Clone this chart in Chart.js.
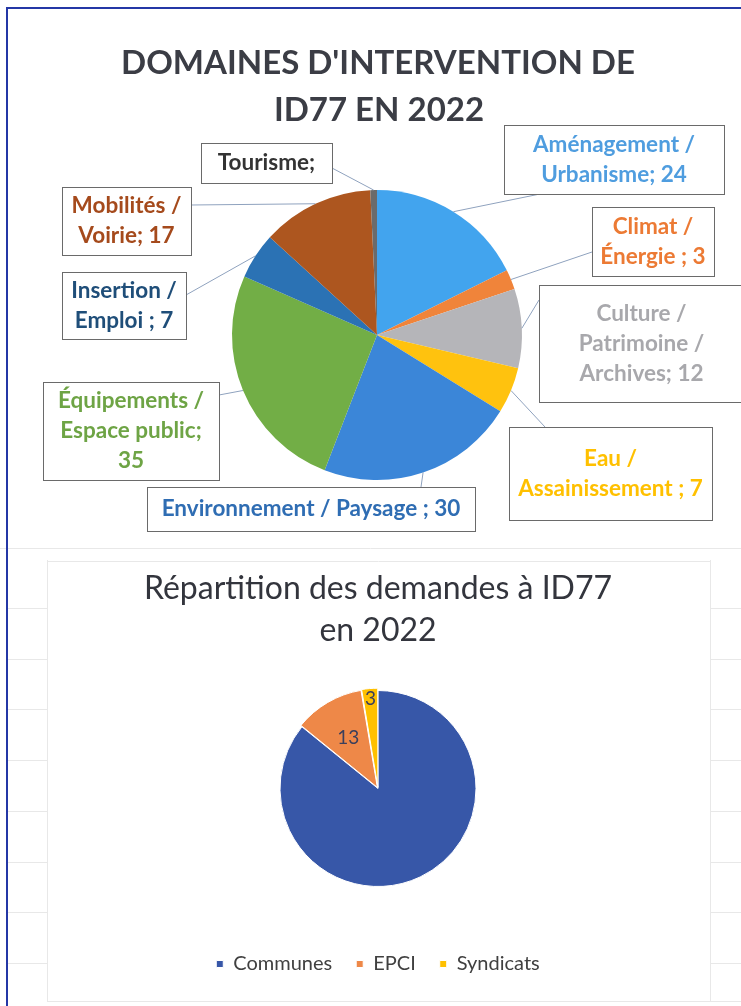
<!DOCTYPE html>
<html lang="fr">
<head>
<meta charset="utf-8">
<title>Domaines d'intervention de ID77 en 2022</title>
<script src="https://cdn.jsdelivr.net/npm/chart.js@4.4.1/dist/chart.umd.min.js"></script>
<style>
  html, body { margin: 0; padding: 0; background: #fff; }
  body { width: 741px; height: 1006px; position: relative; overflow: hidden; }
  #zoneDomaines { position: absolute; left: 0; top: 0; }
  #zoneDemandes { position: absolute; left: 0; top: 540px; }
  .cadre { position: absolute; left: 6px; top: 7px; width: 760px; height: 1020px;
           border-left: 2px solid #2437a6; border-top: 2px solid #2437a6; pointer-events: none; }
</style>
</head>
<body>
<canvas id="zoneDomaines" width="741" height="545"></canvas>
<canvas id="zoneDemandes" width="741" height="466"></canvas>
<div class="cadre"></div>
<script>
// Données - graphique 1 (domaines d'intervention)
const domaines = ['Aménagement / Urbanisme', 'Climat / Énergie', 'Culture / Patrimoine / Archives',
  'Eau / Assainissement', 'Environnement / Paysage', 'Équipements / Espace public',
  'Insertion / Emploi', 'Mobilités / Voirie', 'Tourisme'];
const valeursDomaines = [24, 3, 12, 7, 30, 35, 7, 17, 1];
const couleursDomaines = ['#42a4ee', '#f0843a', '#b5b5b9', '#ffc20e', '#3b86d8', '#72ae46', '#2b72b4', '#ad561f', '#6b6b6b'];
const couleursEtiquettes = ['#4f9ddf', '#ec7a34', '#a8a8ac', '#ffc000', '#2f6db3', '#6ea445', '#1f4e79', '#a54a1c', '#333333'];
// texte des étiquettes ({v} = valeur)
const lignesEtiquettes = [
  ['Aménagement /', 'Urbanisme; {v}'],
  ['Climat /', 'Énergie ; {v}'],
  ['Culture /', 'Patrimoine /', 'Archives; {v}'],
  ['Eau /', 'Assainissement ; {v}'],
  ['Environnement / Paysage ; {v}'],
  ['Équipements /', 'Espace public;', '{v}'],
  ['Insertion /', 'Emploi ; {v}'],
  ['Mobilités /', 'Voirie; {v}'],
  ['Tourisme;']
];

// Données - graphique 2 (répartition des demandes)
const categoriesDemandes = ['Communes', 'EPCI', 'Syndicats'];
const valeursDemandes = [97, 13, 3];
const couleursDemandes = ['#3757a8', '#ee8848', '#ffc000'];
const valeurVisible = [false, true, true];

const titre1 = ["DOMAINES D'INTERVENTION DE", 'ID77 EN 2022'];
const titre2 = ['Répartition des demandes à ID77', 'en 2022'];

Chart.defaults.font.family = 'Lato, "Open Sans", sans-serif';

// boîtes des étiquettes + point d'accroche du trait
const boites = [
  {x: 504, y: 125, w: 220, h: 69, ax: 540, ay: 194},
  {x: 592, y: 207, w: 122, h: 69, ax: 592, ay: 252},
  {x: 539, y: 285, w: 205, h: 117, ax: 539, ay: 300},
  {x: 509, y: 427, w: 203, h: 93, ax: 545, ay: 427},
  {x: 147, y: 487, w: 328, h: 44, ax: 421, ay: 487},
  {x: 43, y: 382, w: 176, h: 98, ax: 219, ay: 395},
  {x: 62, y: 272, w: 124, h: 67, ax: 186, ay: 295},
  {x: 62, y: 187, w: 129, h: 68, ax: 191, ay: 205},
  {x: 201, y: 143, w: 131, h: 40, ax: 332, ay: 168}
];

const etiquettesDomaines = {
  id: 'etiquettesDomaines',
  afterDatasetsDraw(chart) {
    const ctx = chart.ctx;
    const arcs = chart.getDatasetMeta(0).data;
    ctx.save();
    // traits de rappel
    ctx.strokeStyle = '#8fa2be';
    ctx.lineWidth = 1;
    arcs.forEach((arc, i) => {
      const p = arc.getProps(['x', 'y', 'startAngle', 'endAngle', 'outerRadius'], true);
      const milieu = (p.startAngle + p.endAngle) / 2;
      const b = boites[i];
      ctx.beginPath();
      ctx.moveTo(p.x + Math.cos(milieu) * p.outerRadius, p.y + Math.sin(milieu) * p.outerRadius);
      ctx.lineTo(b.ax, b.ay);
      ctx.stroke();
    });
    // boîtes + texte
    ctx.textAlign = 'center';
    ctx.textBaseline = 'middle';
    ctx.font = 'bold 22.5px Lato';
    arcs.forEach((arc, i) => {
      const b = boites[i];
      ctx.fillStyle = '#fff';
      ctx.fillRect(b.x, b.y, b.w, b.h);
      ctx.strokeStyle = '#6a6a6a';
      ctx.strokeRect(b.x + 0.5, b.y + 0.5, b.w, b.h);
      const lignes = lignesEtiquettes[i].map(l => l.replace('{v}', valeursDomaines[i]));
      ctx.fillStyle = couleursEtiquettes[i];
      lignes.forEach((l, k) => {
        ctx.fillText(l, b.x + b.w / 2, b.y + b.h / 2 + (k - (lignes.length - 1) / 2) * 30);
      });
    });
    // titre
    ctx.fillStyle = '#3b3d45';
    ctx.font = 'bold 33px Lato';
    ctx.fillText(titre1[0], 378, 63);
    ctx.fillText(titre1[1], 379, 110);
    ctx.restore();
  }
};

new Chart(document.getElementById('zoneDomaines'), {
  type: 'pie',
  data: {
    labels: domaines,
    datasets: [{
      data: valeursDomaines,
      backgroundColor: couleursDomaines,
      borderWidth: 0,
      radius: 145
    }]
  },
  options: {
    responsive: false,
    animation: false,
    layout: { padding: { left: 232, right: 219, top: 190, bottom: 65 } },
    plugins: { legend: { display: false }, tooltip: { enabled: false } }
  },
  plugins: [etiquettesDomaines]
});

// fond façon tableur + titre + valeurs du graphique 2
const habillageDemandes = {
  id: 'habillageDemandes',
  beforeDraw(chart) {
    const ctx = chart.ctx;
    ctx.save();
    ctx.strokeStyle = '#e8e8e8';
    ctx.lineWidth = 1;
    ctx.beginPath();
    ctx.moveTo(0, 8.5); ctx.lineTo(741, 8.5);
    ctx.moveTo(47.5, 20); ctx.lineTo(47.5, 462);
    ctx.moveTo(710.5, 20); ctx.lineTo(710.5, 462);
    ctx.moveTo(47, 21.5); ctx.lineTo(710, 21.5);
    ctx.moveTo(47, 461.5); ctx.lineTo(741, 461.5);
    for (let y = 68; y < 460; y += 50.7) {
      ctx.moveTo(8, Math.round(y) + 0.5); ctx.lineTo(47, Math.round(y) + 0.5);
      ctx.moveTo(710, Math.round(y) + 0.5); ctx.lineTo(741, Math.round(y) + 0.5);
    }
    ctx.stroke();
    ctx.restore();
  },
  afterDatasetsDraw(chart) {
    const ctx = chart.ctx;
    const arcs = chart.getDatasetMeta(0).data;
    const position = [0.6, 0.6, 0.92];
    ctx.save();
    ctx.textAlign = 'center';
    ctx.textBaseline = 'middle';
    ctx.font = '19px Lato';
    ctx.fillStyle = '#3a3f5c';
    arcs.forEach((arc, i) => {
      if (!valeurVisible[i]) return;
      const p = arc.getProps(['x', 'y', 'startAngle', 'endAngle', 'outerRadius'], true);
      const milieu = (p.startAngle + p.endAngle) / 2;
      ctx.fillText(String(valeursDemandes[i]),
        p.x + Math.cos(milieu) * p.outerRadius * position[i],
        p.y + Math.sin(milieu) * p.outerRadius * position[i]);
    });
    ctx.fillStyle = '#33353d';
    ctx.font = '32px Lato';
    ctx.fillText(titre2[0], 378, 49);
    ctx.fillText(titre2[1], 378, 91);
    ctx.restore();
  }
};

new Chart(document.getElementById('zoneDemandes'), {
  type: 'pie',
  data: {
    labels: categoriesDemandes,
    datasets: [{
      data: valeursDemandes,
      backgroundColor: couleursDemandes,
      borderColor: '#ffffff',
      borderWidth: 1,
      offset: [0, 5, 5],
      radius: 98
    }]
  },
  options: {
    responsive: false,
    animation: false,
    layout: { padding: { left: 15, right: 0, top: 107, bottom: 22 } },
    plugins: {
      tooltip: { enabled: false },
      legend: {
        position: 'bottom',
        labels: {
          usePointStyle: true,
          pointStyle: 'rect',
          boxWidth: 7,
          boxHeight: 7,
          padding: 24,
          color: '#404040',
          font: { size: 20 }
        }
      }
    }
  },
  plugins: [habillageDemandes]
});
</script>
</body>
</html>
